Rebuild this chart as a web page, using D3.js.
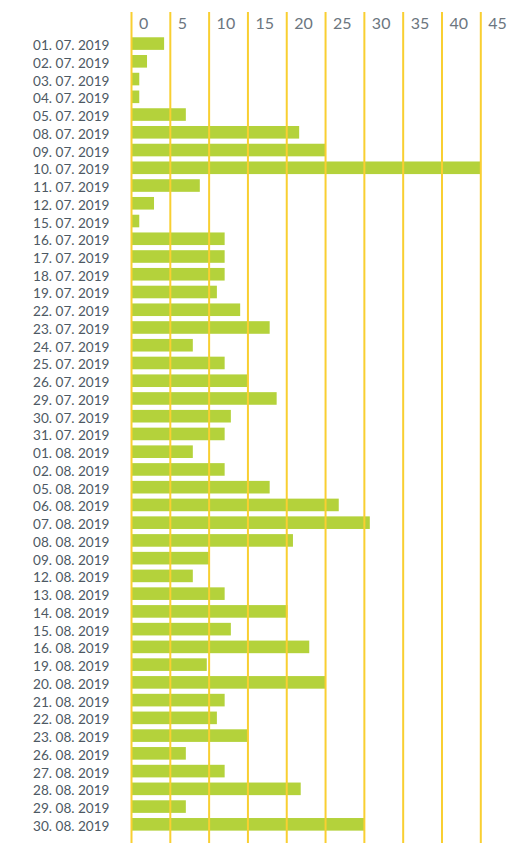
<!DOCTYPE html>
<html>
<head>
<meta charset="utf-8">
<script src="https://cdn.jsdelivr.net/npm/d3@7/dist/d3.min.js"></script>
<style>
  html, body { margin: 0; padding: 0; background: #ffffff; }
  svg { display: block; }
  .day-label { font-family: Lato, "Open Sans", sans-serif; font-size: 13.6px; fill: #4d5963; }
  .tick-label { font-family: Lato, "Open Sans", sans-serif; font-size: 16px; fill: #6c7680; }
</style>
</head>
<body>
<svg id="chart" width="509" height="843"></svg>
<script>
// Daily values, July–August 2019
const days = [
  "01. 07. 2019", "02. 07. 2019", "03. 07. 2019", "04. 07. 2019", "05. 07. 2019",
  "08. 07. 2019", "09. 07. 2019", "10. 07. 2019", "11. 07. 2019", "12. 07. 2019",
  "15. 07. 2019", "16. 07. 2019", "17. 07. 2019", "18. 07. 2019", "19. 07. 2019",
  "22. 07. 2019", "23. 07. 2019", "24. 07. 2019", "25. 07. 2019", "26. 07. 2019",
  "29. 07. 2019", "30. 07. 2019", "31. 07. 2019", "01. 08. 2019", "02. 08. 2019",
  "05. 08. 2019", "06. 08. 2019", "07. 08. 2019", "08. 08. 2019", "09. 08. 2019",
  "12. 08. 2019", "13. 08. 2019", "14. 08. 2019", "15. 08. 2019", "16. 08. 2019",
  "19. 08. 2019", "20. 08. 2019", "21. 08. 2019", "22. 08. 2019", "23. 08. 2019",
  "26. 08. 2019", "27. 08. 2019", "28. 08. 2019", "29. 08. 2019", "30. 08. 2019"
];
const values = [
  4.2, 2, 1, 1, 7,
  21.6, 25, 45, 8.8, 2.9,
  1, 12, 12, 12, 11,
  14, 17.8, 7.9, 12, 15,
  18.7, 12.8, 12, 7.9, 12,
  17.8, 26.7, 30.7, 20.8, 10.1,
  7.9, 12, 20.1, 12.8, 22.9,
  9.7, 25, 12, 11, 14.9,
  7, 12, 21.8, 7, 30
];
const tickValues = [0, 5, 10, 15, 20, 25, 30, 35, 40, 45];

const svg = d3.select("#chart");

const x = d3.scaleLinear().domain([0, 45]).range([131.5, 480.8]);
const y = d3.scaleBand()
  .domain(days)
  .range([34.7, 833.2])
  .paddingInner(0.29)
  .paddingOuter(0.145);

const rows = days.map((d, i) => ({ day: d, value: values[i] }));

// bars
svg.append("g")
  .selectAll("rect")
  .data(rows)
  .join("rect")
  .attr("x", x(0))
  .attr("y", d => y(d.day))
  .attr("width", d => x(d.value) - x(0))
  .attr("height", y.bandwidth())
  .attr("fill", "#b4d23b");

// vertical grid lines drawn over the bars
svg.append("g")
  .selectAll("line")
  .data(tickValues)
  .join("line")
  .attr("x1", d => x(d))
  .attr("x2", d => x(d))
  .attr("y1", 12)
  .attr("y2", 843)
  .attr("stroke", "#f9cf31")
  .attr("stroke-width", 2);

// tick labels along the top
svg.append("g")
  .selectAll("text")
  .data(tickValues)
  .join("text")
  .attr("class", "tick-label")
  .attr("x", d => x(d) + 7.5)
  .attr("y", 28.5)
  .text(d => d);

// date labels
svg.append("g")
  .selectAll("text")
  .data(rows)
  .join("text")
  .attr("class", "day-label")
  .attr("x", 109.5)
  .attr("y", d => y(d.day) + y.bandwidth() / 2 + 6.5)
  .attr("text-anchor", "end")
  .text(d => d.day);
</script>
</body>
</html>
